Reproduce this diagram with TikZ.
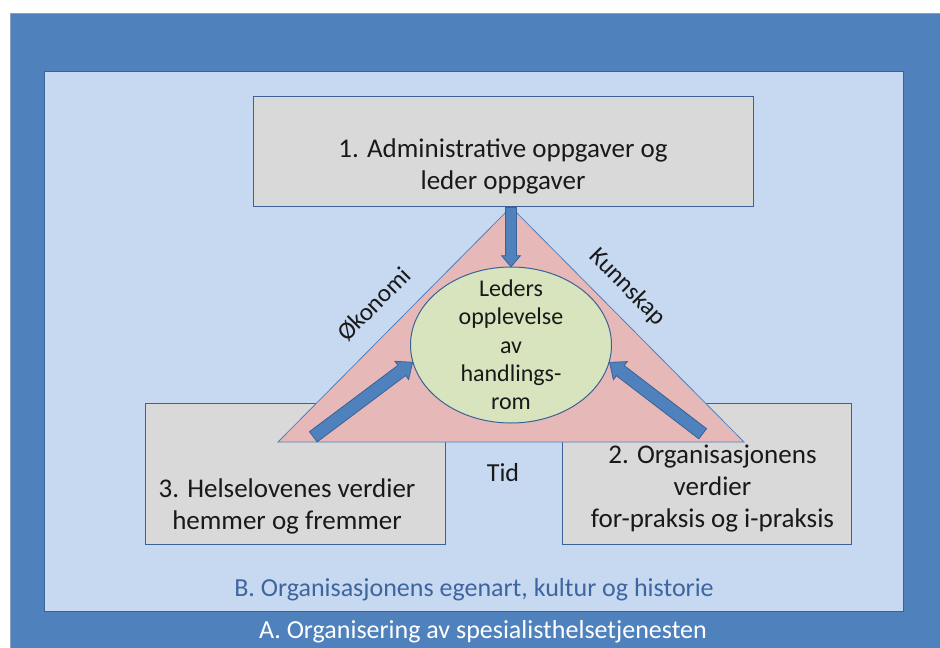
\documentclass[tikz,border=0pt]{standalone}
\usepackage{fontspec}
\setmainfont{Carlito}
\usetikzlibrary{shapes,arrows,positioning,calc}

\definecolor{outerblue}{HTML}{4F81BD}
\definecolor{innerblue}{HTML}{C6D9F1}
\definecolor{edgeblue}{HTML}{3A6297}
\definecolor{boxgray}{HTML}{D9D9D9}
\definecolor{trirose}{HTML}{E6B9B8}
\definecolor{ellgreen}{HTML}{D7E4BD}
\definecolor{labelblue}{HTML}{3F65A0}

\begin{document}
\begin{tikzpicture}[
  x=1pt, y=-1pt,
  frame/.style={rectangle, draw=edgeblue, line width=0.8pt},
  box/.style={rectangle, draw=edgeblue, fill=boxgray, line width=1pt},
  boxtext/.style={align=center, font=\fontsize{27}{32}\selectfont, text=black!90},
  oval/.style={ellipse, draw=edgeblue, fill=ellgreen, line width=1pt, minimum width=201pt, minimum height=156pt},
  tri/.style={draw=outerblue, fill=trirose, line width=0.8pt},
  sidetext/.style={font=\fontsize{25}{30}\selectfont, text=black!90},
  blockarrow/.style={single arrow, draw=edgeblue, fill=outerblue, line width=0.8pt, inner sep=0pt,
    single arrow tip angle=80, anchor=tail, sloped, allow upside down}
]
\useasboundingbox (0,0) rectangle (940,648);
\fill[white] (0,0) rectangle (940,648);

% frames
\draw[frame, fill=outerblue, draw=edgeblue!60] (10,13) rectangle (940,648);
\draw[frame, fill=innerblue] (44,71) rectangle (903,611);

% the three boxes
\node[box, minimum width=500pt, minimum height=110pt] (box1) at (503,151) {};
\node[box, minimum width=300pt, minimum height=141pt] (box3) at (295,473.5) {};
\node[box, minimum width=289pt, minimum height=141pt] (box2) at (706.5,473.5) {};

\node[boxtext] (box1text) at ([yshift=-15pt]box1.center) {1. Administrative oppgaver og\\leder oppgaver};
\node[boxtext] (box3text) at ([xshift=-8pt, yshift=-33pt]box3.center) {3. Helselovenes verdier\\hemmer og fremmer};
\node[boxtext] (box2text) at ([xshift=6pt, yshift=-15pt]box2.center) {2. Organisasjonens\\verdier\\for-praksis og i-praksis};

% triangle
\coordinate (apex) at (511,207);
\coordinate (baseL) at (278,442);
\coordinate (baseR) at (744,442);
\draw[tri] (apex) -- (baseR) -- (baseL) -- cycle;

\node[oval] (ell) at (511,345) {};
\node[align=center, font=\fontsize{24}{28.3}\selectfont, text=black!90] (elltext) at (ell.center)
  {Leders\\opplevelse\\av\\handlings-\\rom};

% arrows into the ellipse
\coordinate (tailL) at (313,437);
\coordinate (tailR) at (703,434);
\path let \p1=($(ell.north)-(apex)$), \n1={veclen(\x1,\y1)} in
  (apex) -- (ell.north) node[blockarrow, pos=0, minimum height=\n1, text height=5pt, text depth=5pt, single arrow head extend=4pt] {};
\path let \p1=($(ell.190)-(tailL)$), \n1={veclen(\x1,\y1)} in
  (tailL) -- (ell.190) node[blockarrow, pos=0, minimum height=\n1, text height=6pt, text depth=6pt, single arrow head extend=5pt] {};
\path let \p1=($(ell.350)-(tailR)$), \n1={veclen(\x1,\y1)} in
  (tailR) -- (ell.350) node[blockarrow, pos=0, minimum height=\n1, text height=6pt, text depth=6pt, single arrow head extend=5pt] {};

% side labels
\path (baseL) -- (apex) node[sidetext, midway, sloped, above=16pt] (okonomi) {Økonomi};
\path (apex) -- (baseR) node[sidetext, pos=0.42, sloped, above=12pt] (kunnskap) {Kunnskap};
\node[sidetext, font=\fontsize{26}{30}\selectfont] (tid) at (503,473) {Tid};

% frame labels
\node[font=\fontsize{26}{30}\selectfont, text=labelblue] (labelB) at (474,590) {B. Organisasjonens egenart, kultur og historie};
\node[font=\fontsize{26}{30}\selectfont, text=white] (labelA) at (483,632) {A. Organisering av spesialisthelsetjenesten};

\end{tikzpicture}
\end{document}
